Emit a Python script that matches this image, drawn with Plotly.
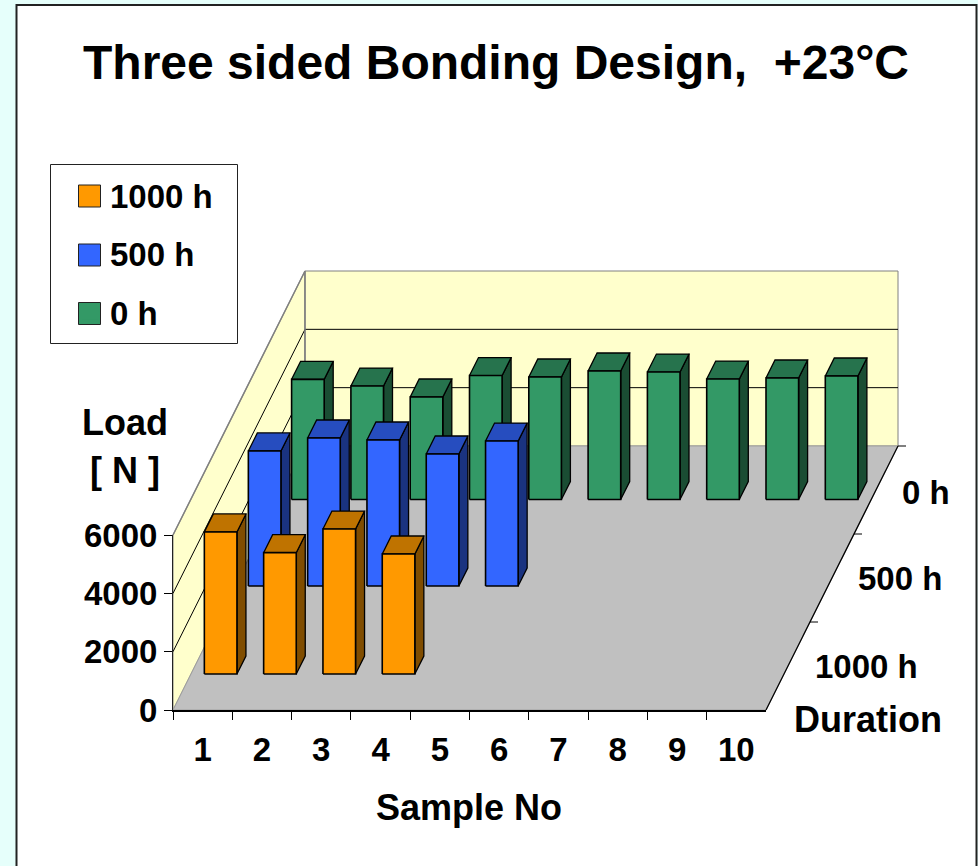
import plotly.graph_objects as go

# ---- data ----
samples = ["1", "2", "3", "4", "5", "6", "7", "8", "9", "10"]
durations = ["1000 h", "500 h", "0 h"]
load_1000h = [4870, 4160, 4970, 4115]
load_500h = [4630, 5075, 5005, 4525, 4970]
load_0h = [4120, 3890, 3515, 4250, 4200, 4405, 4370, 4130, 4165, 4235]
load_ticks = [0, 2000, 4000, 6000]

# ---- page geometry ----
W, H = 978, 866
X0, X1 = 173, 766        # front floor edge
Y0, Y6000 = 710, 535     # load axis
SAMPLE_PX = (X1 - X0) / 10
LOAD_PX = (Y0 - Y6000) / 6000
FLOOR_DX, FLOOR_DY = 132, 264
FONT = "Liberation Sans"

def px_x(p):
    return p / SAMPLE_PX
def px_y(p):
    return p / LOAD_PX

def proj(s, depth_px, load):
    """sample position (0..10), depth in screen px upward along the floor, load."""
    return s + px_x(depth_px / 2), load + px_y(depth_px)

def poly(points):
    xs, ys = zip(*points)
    return list(xs) + [xs[0], None], list(ys) + [ys[0], None]

fig = go.Figure()

def add_poly(points_list, fill, line, width=1.0):
    xs, ys = [], []
    for pts in points_list:
        a, b = poly(pts)
        xs += a
        ys += b
    fig.add_trace(go.Scatter(x=xs, y=ys, mode="lines", fill="toself", fillcolor=fill,
                             line=dict(color=line, width=width), hoverinfo="skip",
                             showlegend=False))

def add_line(points_list, color, width=1.0):
    xs, ys = [], []
    for pts in points_list:
        xs += [p[0] for p in pts] + [None]
        ys += [p[1] for p in pts] + [None]
    fig.add_trace(go.Scatter(x=xs, y=ys, mode="lines", line=dict(color=color, width=width),
                             hoverinfo="skip", showlegend=False))

# walls & floor
top = 6000
add_poly([[proj(0, 0, 0), proj(0, 0, top), proj(0, FLOOR_DY, top), proj(0, FLOOR_DY, 0)]], "#FFFFCC", "#808080")
add_poly([[proj(0, FLOOR_DY, 0), proj(0, FLOOR_DY, top), proj(10, FLOOR_DY, top), proj(10, FLOOR_DY, 0)]], "#FFFFCC", "#808080")
add_poly([[proj(0, 0, 0), proj(10, 0, 0), proj(10, FLOOR_DY, 0), proj(0, FLOOR_DY, 0)]], "#C0C0C0", "#A0A0A0")
add_line([[proj(0, 0, v), proj(0, FLOOR_DY, v), proj(10, FLOOR_DY, v)] for v in load_ticks[1:-1]], "#000000", 1)
add_line([[proj(0, 0, top), proj(0, FLOOR_DY, top), proj(0, FLOOR_DY, 0)]], "#808080", 1.5)

# depth axis + ticks
add_line([[proj(10, 0, 0), proj(10, FLOOR_DY, 0)]], "#000000", 1.3)
add_line([[proj(10, FLOOR_DY * k / 3, 0), (proj(10, FLOOR_DY * k / 3, 0)[0] + px_x(8), 0 + px_y(FLOOR_DY * k / 3))]
          for k in range(1, 4)], "#000000", 1)

# bars
BAR_W = 32.6
BAR_D = 18
ROW_FRONT = [36, 124, 210.5]

def add_bars(values, row, front, topc, side):
    f, t, r = [], [], []
    d0, d1 = ROW_FRONT[row], ROW_FRONT[row] + BAR_D
    hw = BAR_W / 2 / SAMPLE_PX
    for i, v in enumerate(values):
        c = i + 0.5
        l, rr = c - hw, c + hw
        f.append([proj(l, d0, 0), proj(rr, d0, 0), proj(rr, d0, v), proj(l, d0, v)])
        t.append([proj(l, d0, v), proj(rr, d0, v), proj(rr, d1, v), proj(l, d1, v)])
        r.append([proj(rr, d0, 0), proj(rr, d1, 0), proj(rr, d1, v), proj(rr, d0, v)])
    add_poly(r, side, "#000000", 1.3)
    add_poly(t, topc, "#000000", 1.3)
    add_poly(f, front, "#000000", 1.6)

add_bars(load_0h, 2, "#339966", "#26734D", "#1A4D33")
add_bars(load_500h, 1, "#3366FF", "#264DBF", "#1A3380")
add_bars(load_1000h, 0, "#FF9900", "#BF7300", "#804D00")

# legend entries
legend_colors = ["#FF9900", "#3366FF", "#339966"]
for name, col in zip(durations, legend_colors):
    fig.add_trace(go.Scatter(x=[None], y=[None], mode="markers", name=name, legendgroup=name,
                             marker=dict(symbol="square", size=16, color=col, line=dict(width=0))))

# true axes
fig.add_trace(go.Scatter(x=samples, y=[0] * len(samples), xaxis="x2", yaxis="y2", mode="markers",
                         marker=dict(opacity=0), hoverinfo="skip", showlegend=False))

bold = dict(family=FONT, size=33, color="#000000", weight=700)
big = dict(family=FONT, size=36, color="#000000", weight=700)

swatches = [
    dict(type="rect", xref="paper", yref="paper", layer="above", x0=78.5 / W, x1=100.5 / W,
         y0=1 - (cy + 11) / H, y1=1 - (cy - 11) / H, fillcolor=col, line=dict(color="#222222", width=1))
    for cy, col in zip([196, 255, 313.5], legend_colors)
]

fig.update_layout(
    width=W, height=H, margin=dict(l=0, r=0, t=0, b=0, autoexpand=False), paper_bgcolor="#E6FFFB",
    plot_bgcolor="rgba(0,0,0,0)", font=dict(family=FONT, color="#000000"),
    title=dict(text="Three sided Bonding Design,\u00a0\u00a0+23°C", x=496 / W, xanchor="center",
               xref="paper", yref="paper", y=1 - 62 / H, yanchor="middle",
               font=dict(family=FONT, size=48, color="#000000", weight=700)),
    xaxis=dict(domain=[0, 1], range=[px_x(-X0), px_x(W - X0)], visible=False),
    yaxis=dict(domain=[0, 1], range=[px_y(Y0 - H), px_y(Y0)], visible=False),
    xaxis2=dict(domain=[X0 / W, X1 / W], anchor="y2", type="category", categoryorder="array",
                categoryarray=samples, range=[-0.5, 9.5], tickson="boundaries", ticks="outside",
                ticklen=8, tickcolor="#000000", tickwidth=1, showgrid=False, zeroline=False,
                showline=True, linecolor="#000000", linewidth=2, tickfont=bold, tickangle=0,
                ticklabelstandoff=9),
    yaxis2=dict(domain=[(H - Y0) / H, (H - Y6000) / H], anchor="x2", range=[0, 6000],
                tickvals=load_ticks, ticks="outside", ticklen=8, tickcolor="#000000", tickwidth=1,
                showgrid=False, zeroline=False, showline=True, linecolor="#222222", linewidth=1,
                tickfont=bold),
    legend=dict(x=70 / W, y=1 - 167 / H, xanchor="left", yanchor="top", bgcolor="rgba(0,0,0,0)",
                font=bold, tracegroupgap=12.5, borderwidth=0, itemclick=False, itemdoubleclick=False),
    shapes=[
        dict(type="rect", xref="paper", yref="paper", layer="below", x0=16.5 / W, x1=976.5 / W,
             y0=-0.02, y1=1 - 5 / H, fillcolor="#FFFFFF", line=dict(color="#222222", width=2)),
        dict(type="rect", xref="paper", yref="paper", layer="below", x0=50.5 / W, x1=237.5 / W,
             y0=1 - 343.5 / H, y1=1 - 164.5 / H, fillcolor="#FFFFFF", line=dict(color="#222222", width=1)),
    ] + swatches,
    annotations=[
        dict(text=t, xref="paper", yref="paper", x=x / W, y=1 - y / H, xanchor="center", yanchor="middle",
             showarrow=False, font=f)
        for t, x, y, f in [("Load", 125, 422, big), ("[ N ]", 125, 470, big), ("Duration", 868, 719, big),
                           ("Sample No", 469, 807, big),
                           (durations[2], 926, 492, bold), (durations[1], 900, 578, bold),
                           (durations[0], 866, 666, bold)]
    ],
)

fig.write_html("out.html", config=dict(displayModeBar=False),
               post_script="document.body.style.margin='0';document.body.style.overflow='hidden';")
